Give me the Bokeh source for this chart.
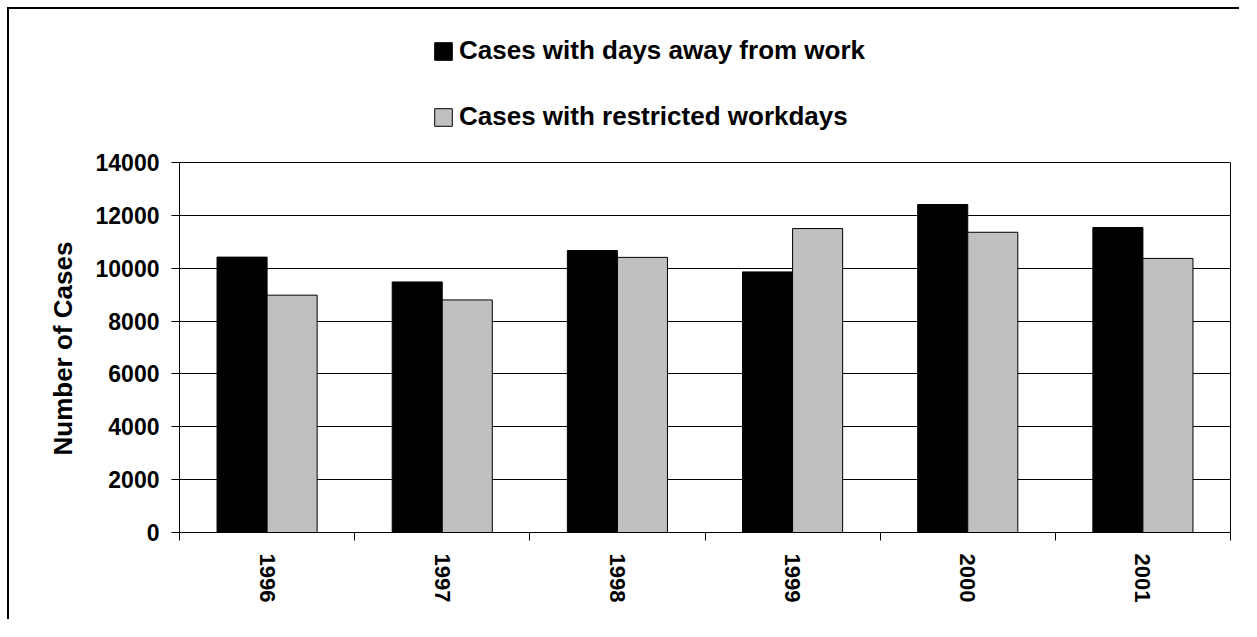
from bokeh.plotting import figure
from bokeh.models import (ColumnDataSource, Range1d, FixedTicker, Legend, LegendItem,
                          NumeralTickFormatter, LinearAxis, Title)
from bokeh.embed import file_html
from bokeh.resources import INLINE

years = ["1996", "1997", "1998", "1999", "2000", "2001"]
days_away = [10420, 9480, 10670, 9860, 12410, 11540]
restricted = [8980, 8800, 10410, 11500, 11360, 10370]
series_names = ["Cases with days away from work", "Cases with restricted workdays"]
y_ticks = [0, 2000, 4000, 6000, 8000, 10000, 12000, 14000]
y_title = "Number of Cases"

FONT = "Liberation Sans"
bar_w = 1 / 3.5
centers = [i + 0.5 for i in range(len(years))]

# layout (pixels): the frame reaches the canvas top so the legend above the plot area is not clipped
W, H = 1232, 612
FRAME_BOTTOM = 523          # canvas y of value 0
PLOT_TOP = 153              # canvas y of the top value
frame_h = FRAME_BOTTOM
plot_h = FRAME_BOTTOM - PLOT_TOP
y_top = y_ticks[-1]
y_end = y_top * frame_h / plot_h

src = ColumnDataSource(dict(
    x1=[c - bar_w / 2 for c in centers],
    x2=[c + bar_w / 2 for c in centers],
    a=days_away, r=restricted,
))

p = figure(width=W, height=H, output_backend="svg", toolbar_location=None,
           x_range=Range1d(0, len(years)), y_range=Range1d(0, y_end),
           min_border_left=170, min_border_top=0, min_border_right=11, min_border_bottom=H - FRAME_BOTTOM,
           x_axis_type=None)
p.margin = (7, 0, 0, 7)
p.styles = {"border-left": "2px solid black", "border-top": "2px solid black"}
p.outline_line_color = None
p.background_fill_color = "white"
p.border_fill_color = "white"

r1 = p.vbar(x="x1", top="a", width=bar_w, source=src, fill_color="black", line_color="black", line_width=1)
r2 = p.vbar(x="x2", top="r", width=bar_w, source=src, fill_color="#c0c0c0", line_color="black", line_width=1)

# x axis: labels at category centres, tick marks at boundaries
xaxis = LinearAxis(ticker=FixedTicker(ticks=centers, minor_ticks=list(range(len(years) + 1))))
xaxis.major_label_overrides = {c: y for c, y in zip(centers, years)}
xaxis.major_tick_out = 0
xaxis.major_tick_in = 0
xaxis.minor_tick_out = 8
xaxis.minor_tick_in = 0
xaxis.minor_tick_line_color = "black"
xaxis.axis_line_color = "black"
xaxis.major_label_orientation = "vertical"
xaxis.major_label_text_font = FONT
xaxis.major_label_text_font_style = "bold"
xaxis.major_label_text_font_size = "22px"
xaxis.major_label_text_color = "black"
xaxis.major_label_standoff = 13
p.add_layout(xaxis, "below")

yaxis = p.yaxis[0]
yaxis.bounds = (0, y_top)
yaxis.ticker = FixedTicker(ticks=y_ticks)
yaxis.formatter = NumeralTickFormatter(format="0")
yaxis.major_tick_out = 8
yaxis.major_tick_in = 0
yaxis.minor_tick_out = 0
yaxis.minor_tick_in = 0
yaxis.axis_line_color = "black"
yaxis.major_tick_line_color = "black"
yaxis.major_label_text_font = FONT
yaxis.major_label_text_font_style = "bold"
yaxis.major_label_text_font_size = "23px"
yaxis.major_label_text_color = "black"
yaxis.major_label_standoff = 12

# y-axis title, centred on the plot area (not on the taller frame)
ylab = Title(text=y_title, align="left", offset=77, standoff=30,
             text_font=FONT, text_font_style="bold", text_font_size="26px", text_color="black")
p.add_layout(ylab, "left")

# right edge of the plot area
raxis = LinearAxis(bounds=(0, y_top), ticker=FixedTicker(ticks=[]))
raxis.major_tick_out = 0
raxis.major_tick_in = 0
raxis.minor_tick_out = 0
raxis.minor_tick_in = 0
raxis.major_label_standoff = 0
raxis.major_label_text_font_size = "0px"
raxis.axis_line_color = "black"
p.add_layout(raxis, "right")

p.ygrid.ticker = FixedTicker(ticks=y_ticks[1:])
p.ygrid.grid_line_color = "black"
p.ygrid.grid_line_width = 1
p.xgrid.visible = False

legend = Legend(items=[LegendItem(label=series_names[0], renderers=[r1]),
                       LegendItem(label=series_names[1], renderers=[r2])],
                location=(253, 400), orientation="vertical")
legend.glyph_width = 22
legend.glyph_height = 22
legend.label_height = 31
legend.spacing = 35
legend.label_standoff = 5
legend.padding = 0
legend.margin = 0
legend.border_line_color = None
legend.background_fill_alpha = 0
legend.label_text_font = FONT
legend.label_text_font_style = "bold"
legend.label_text_font_size = "26px"
legend.label_text_color = "black"
legend.label_text_baseline = "middle"
p.add_layout(legend, "center")

open("out.html", "w").write(file_html(p, INLINE))
